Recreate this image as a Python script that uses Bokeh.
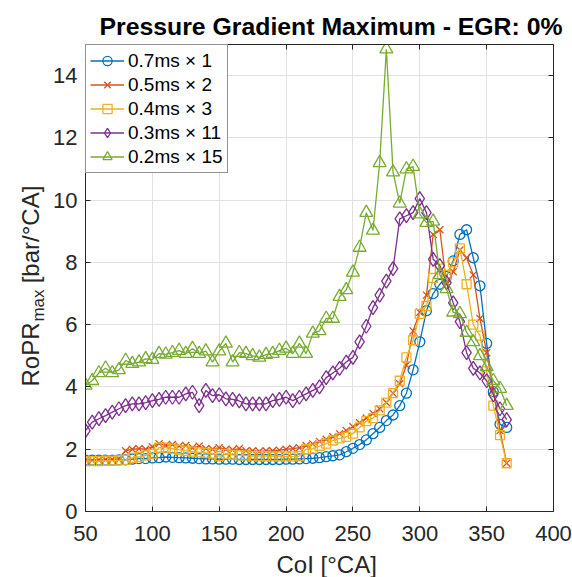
import math
from bokeh.plotting import figure
from bokeh.layouts import row, column
from bokeh.models import Range1d, LinearAxis, Legend, LegendItem, FixedTicker, ColumnDataSource
from bokeh.core.properties import value
from bokeh.embed import file_html
from bokeh.resources import INLINE

# ---------------- data ----------------
coi = list(range(50, 366, 5))

s07 = [1.65, 1.65, 1.65, 1.65, 1.65, 1.66, 1.66, 1.68, 1.70, 1.70,
       1.72, 1.73, 1.75, 1.74, 1.73, 1.72, 1.71, 1.70, 1.69, 1.69,
       1.68, 1.68, 1.68, 1.67, 1.67, 1.67, 1.67, 1.67, 1.67, 1.67,
       1.68, 1.68, 1.69, 1.70, 1.71, 1.73, 1.76, 1.79, 1.82, 1.92,
       2.03, 2.15, 2.30, 2.50, 2.70, 2.92, 3.10, 3.40, 3.80, 4.55,
       5.45, 6.45, 7.00, 7.30, 7.55, 8.05, 8.90, 9.05, 8.15, 7.25,
       5.40, 3.85, 2.80, 2.70]

s05 = [1.65, 1.65, 1.66, 1.67, 1.68, 1.70, 1.95, 2.00, 2.02, 2.00,
       2.08, 2.18, 2.12, 2.15, 2.10, 2.12, 2.05, 2.10, 2.02, 2.00,
       2.05, 2.00, 1.98, 2.02, 1.95, 1.95, 1.93, 1.95, 1.95, 1.97,
       2.00, 2.02, 2.05, 2.12, 2.17, 2.25, 2.32, 2.40, 2.50, 2.60,
       2.72, 2.85, 3.00, 3.15, 3.30, 3.50, 3.80, 4.10, 4.70, 5.80,
       6.40, 6.95, 8.90, 9.05, 7.30, 7.70, 8.40, 8.15, 7.60, 6.20,
       5.10, 3.90, 2.60, 1.55]

s04 = [1.62, 1.62, 1.62, 1.63, 1.63, 1.64, 1.66, 1.72, 1.75, 1.80,
       1.85, 2.05, 2.05, 2.02, 1.98, 1.95, 1.92, 1.90, 1.88, 1.86,
       1.78, 1.85, 1.82, 1.80, 1.80, 1.78, 1.78, 1.78, 1.77, 1.77,
       1.77, 1.77, 1.78, 2.00, 2.02, 2.10, 2.18, 2.28, 2.35, 2.40,
       2.50, 2.70, 2.90, 3.00, 3.25, 3.50, 3.80, 4.20, 4.95, 5.50,
       6.35, 6.60, 7.50, 7.80, 7.60, 8.00, 8.45, 7.30, 6.00, 5.65,
       4.50, 3.40, 2.45, 1.55]

s03 = [2.60, 2.87, 2.98, 3.08, 3.19, 3.30, 3.40, 3.46, 3.46, 3.50,
       3.56, 3.60, 3.67, 3.67, 3.67, 3.78, 3.83, 3.40, 3.89, 3.72,
       3.75, 3.62, 3.60, 3.55, 3.46, 3.46, 3.46, 3.46, 3.56, 3.60,
       3.67, 3.56, 3.67, 3.78, 3.89, 4.00, 4.30, 4.45, 4.60, 4.80,
       4.95, 5.45, 5.95, 6.55, 6.95, 7.40, 7.80, 9.40, 9.50, 9.60,
       10.05, 9.60, 8.10, 7.90, 7.35, 6.70, 6.10, 5.10, 4.60, 4.45,
       4.20, 3.75, 3.30, 2.95]

s02 = [4.05, 4.20, 4.45, 4.60, 4.45, 4.55, 4.85, 4.75, 4.80, 4.90,
       4.88, 5.07, 5.05, 5.10, 5.17, 5.07, 5.23, 5.07, 5.15, 4.80,
       5.15, 5.40, 4.80, 5.10, 5.07, 5.00, 4.95, 5.04, 5.07, 5.17,
       5.24, 5.07, 5.40, 5.07, 5.72, 5.80, 6.20, 6.20, 6.90, 7.12,
       7.68, 8.48, 9.60, 9.03, 11.20, 14.85, 10.90, 9.90, 11.00, 11.08,
       9.55, 9.28, 9.32, 7.60, 7.15, 6.40, 6.35, 5.75, 5.45, 5.00,
       4.65, 4.20, 3.95, 3.40]

labels = ["0.7ms \u00d7 1", "0.5ms \u00d7 2", "0.4ms \u00d7 3", "0.3ms \u00d7 11", "0.2ms \u00d7 15"]
x_ticks = [50, 100, 150, 200, 250, 300, 350, 400]
y_ticks = [0, 2, 4, 6, 8, 10, 12, 14]
title_text = "Pressure Gradient Maximum - EGR: 0%"
xlabel_text = "CoI [\u00b0CA]"
ylabel_parts = ["RoPR", "max", "[bar/\u00b0CA]"]

# ---------------- style ----------------
FONT = "Liberation Sans"
DARK = "#262626"
colors = ["#0072BD", "#D95319", "#EDB120", "#7E2F8E", "#77AC30"]
markers = ["circle", "x", "square", "diamond", "triangle"]
msizes = [10, 10, 9, 14, 13]

W, H = 572, 577
LEFT_W = 50
XL_H = 26
MAIN_H = H - XL_H


def strip(w, h):
    f = figure(width=w, height=h, output_backend="svg", toolbar_location=None, title=None,
               x_range=Range1d(0, w), y_range=Range1d(0, h),
               x_axis_location=None, y_axis_location=None,
               min_border=0, min_border_left=0, min_border_right=0,
               min_border_top=0, min_border_bottom=0)
    f.outline_line_color = None
    f.grid.visible = False
    f.background_fill_color = "white"
    f.border_fill_color = "white"
    return f


# ---- left strip with the y-axis label (RoPR_max [bar/°CA]) ----
yl = strip(LEFT_W, H)
ysrc = ColumnDataSource(dict(x=[29.7, 38.0, 29.7], y=[223, 272, 343], text=ylabel_parts,
                             size=["24px", "17px", "24px"]))
yl.text(x="x", y="y", text="text", source=ysrc, angle=math.pi / 2,
        text_align="center", text_baseline="middle", text_font=value(FONT),
        text_font_size="size", text_color=DARK)

# ---- bottom strip with the x-axis label ----
xl = strip(W - LEFT_W, XL_H)
xl.text(x=[269], y=[13], text=[xlabel_text], text_align="center", text_baseline="middle",
        text_font=value(FONT), text_font_size=value("24px"), text_color=DARK)

# ---- main plot ----
p = figure(width=W - LEFT_W, height=MAIN_H, output_backend="svg", toolbar_location=None,
           x_range=Range1d(50, 400), y_range=Range1d(0, 15),
           min_border_left=34, min_border_right=19, min_border_top=44,
           min_border_bottom=MAIN_H - 511)
p.background_fill_color = "white"
p.border_fill_color = "white"
p.outline_line_color = None

p.title.text = title_text
p.title.align = "left"
p.title.offset = 14
p.title.text_font = FONT
p.title.text_font_size = "24.8px"
p.title.text_font_style = "bold"
p.title.text_color = "black"
p.title.standoff = 9

for ax, ticks in ((p.xaxis[0], x_ticks), (p.yaxis[0], y_ticks)):
    ax.ticker = FixedTicker(ticks=ticks)
    ax.major_tick_in = 5
    ax.major_tick_out = 0
    ax.minor_tick_line_color = None
    ax.axis_line_color = DARK
    ax.major_tick_line_color = DARK
    ax.major_label_text_font = FONT
    ax.major_label_text_font_size = "22px"
    ax.major_label_text_color = DARK
p.xaxis[0].major_label_standoff = 14
p.yaxis[0].major_label_standoff = 8

top_ax = LinearAxis(ticker=FixedTicker(ticks=x_ticks), major_tick_in=5, major_tick_out=0,
                    minor_tick_line_color=None, axis_line_color=DARK, major_tick_line_color=DARK,
                    major_label_text_font_size="1px", major_label_text_color=None,
                    major_label_standoff=0)
right_ax = LinearAxis(ticker=FixedTicker(ticks=y_ticks), major_tick_in=5, major_tick_out=0,
                      minor_tick_line_color=None, axis_line_color=DARK, major_tick_line_color=DARK,
                      major_label_text_font_size="1px", major_label_text_color=None,
                      major_label_standoff=0)
p.add_layout(top_ax, "above")
p.add_layout(right_ax, "right")

p.xgrid.ticker = FixedTicker(ticks=x_ticks)
p.ygrid.ticker = FixedTicker(ticks=y_ticks)
p.grid.grid_line_color = "#e1e1e1"
p.grid.grid_line_width = 1

series = [s07, s05, s04, s03, s02]
items = []
for ys, col, mk, ms, lab in zip(series, colors, markers, msizes, labels):
    ln = p.line(coi, ys, line_color=col, line_width=1.3)
    sc = p.scatter(coi, ys, marker=mk, size=ms, line_color=col, fill_color=None, line_width=1.3)
    items.append(LegendItem(label=lab, renderers=[ln, sc]))

leg = Legend(items=items, location="top_left", margin=0, padding=4, spacing=1,
             glyph_width=34, glyph_height=23, label_height=23, label_standoff=4,
             label_text_font=FONT, label_text_font_size="19px", label_text_color="black",
             border_line_color=DARK, border_line_width=1, background_fill_color="white",
             background_fill_alpha=1.0)
p.add_layout(leg, "center")

layout = row(yl, column(p, xl, spacing=0), spacing=0)
open("out.html", "w").write(file_html(layout, INLINE))
